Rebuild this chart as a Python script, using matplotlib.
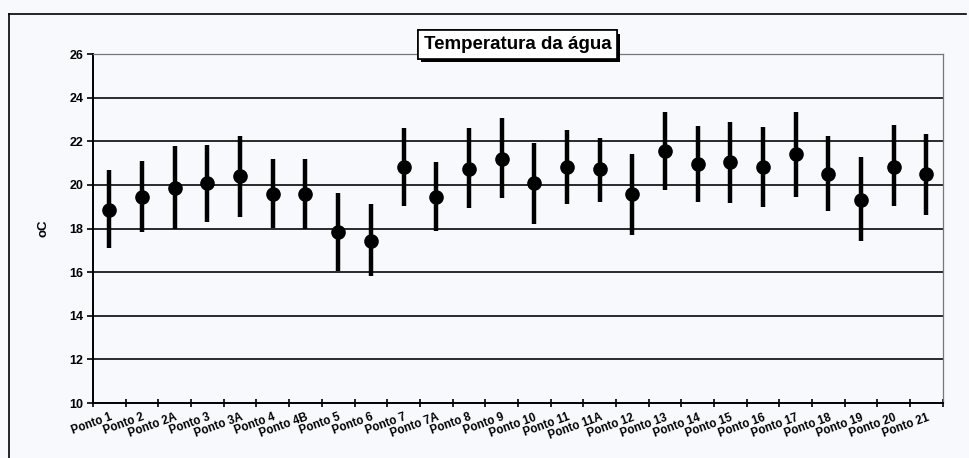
import matplotlib
matplotlib.use('Agg')
import matplotlib.pyplot as plt
import matplotlib.patheffects as pe
from matplotlib.lines import Line2D
import numpy as np

pontos = ['Ponto 1', 'Ponto 2', 'Ponto 2A', 'Ponto 3', 'Ponto 3A', 'Ponto 4', 'Ponto 4B',
          'Ponto 5', 'Ponto 6', 'Ponto 7', 'Ponto 7A', 'Ponto 8', 'Ponto 9', 'Ponto 10',
          'Ponto 11', 'Ponto 11A', 'Ponto 12', 'Ponto 13', 'Ponto 14', 'Ponto 15',
          'Ponto 16', 'Ponto 17', 'Ponto 18', 'Ponto 19', 'Ponto 20', 'Ponto 21']
media = [18.86, 19.44, 19.85, 20.08, 20.41, 19.57, 19.57, 17.83, 17.42, 20.83, 19.44, 20.73, 21.2,
         20.08, 20.8, 20.71, 19.57, 21.55, 20.98, 21.03, 20.83, 21.4, 20.5, 19.32, 20.83, 20.5]
maximo = [20.68, 21.11, 21.78, 21.82, 22.23, 21.2, 21.2, 19.65, 19.12, 22.61, 21.05, 22.61, 23.07,
          21.93, 22.5, 22.17, 21.41, 23.34, 22.7, 22.88, 22.66, 23.34, 22.23, 21.29, 22.73, 22.32]
minimo = [17.12, 17.83, 17.98, 18.3, 18.53, 18.03, 17.98, 16.05, 15.82, 19.04, 17.9, 18.92, 19.39,
          18.22, 19.12, 19.21, 17.72, 19.77, 19.21, 19.17, 19.01, 19.44, 18.82, 17.42, 19.04, 18.63]

plt.rcParams['font.family'] = ['Liberation Sans', 'DejaVu Sans']
plt.rcParams['font.weight'] = 'bold'

fundo = '#f7f9fc'
fig = plt.figure(figsize=(9.69, 4.58), dpi=100, facecolor=fundo)
ax = fig.add_axes([0.096, 0.120, 0.877, 0.762], facecolor=fundo)

x = np.arange(len(pontos))
media = np.array(media)
erro = [media - np.array(minimo), np.array(maximo) - media]

for v in [12, 14, 16, 18, 20, 22, 24]:
    ax.axhline(v, color='#1a1a1a', lw=1.3, zorder=1)

ax.errorbar(x, media, yerr=erro, fmt='o', color='black', ms=9.5, elinewidth=3.2,
            capsize=0, zorder=3)

ax.set_xlim(-0.5, len(pontos) - 0.5)
ax.set_ylim(10, 26)
ax.set_yticks(range(10, 27, 2))
ax.set_xticks(x)
ax.set_xticklabels(pontos, rotation=20, ha='right', rotation_mode='anchor', fontsize=8.3)
ax.set_xticks(np.arange(-0.5, len(pontos)), minor=True)
ax.tick_params(axis='x', which='major', length=0, pad=6)
ax.tick_params(axis='x', which='minor', length=6, direction='inout', width=1.2)
ax.tick_params(axis='y', labelsize=9, length=4, width=1.2, direction='out', pad=3)

for s in ['left', 'bottom']:
    ax.spines[s].set_color('black')
    ax.spines[s].set_linewidth(1.4)
for s in ['top', 'right']:
    ax.spines[s].set_color('#777777')
    ax.spines[s].set_linewidth(0.9)

ax.set_ylabel('oC', fontsize=9.5, fontweight='bold', labelpad=14)

t = fig.text(0.534, 0.903, 'Temperatura da água', ha='center', va='center',
             fontsize=13.5, fontweight='bold',
             bbox=dict(boxstyle='square,pad=0.3', fc='white', ec='black', lw=1.2))
t.get_bbox_patch().set_path_effects([pe.withSimplePatchShadow(offset=(2.5, -2.5),
                                                               shadow_rgbFace='black', alpha=1),
                                     pe.Normal()])

# moldura externa
fig.add_artist(Line2D([9 / 969, 9 / 969], [0, 1 - 14 / 458], color='black', lw=1.2,
                      transform=fig.transFigure))
fig.add_artist(Line2D([9 / 969, 966 / 969], [1 - 14 / 458, 1 - 14 / 458], color='black', lw=1.2,
                      transform=fig.transFigure))

fig.savefig('out.png', dpi=100, facecolor=fundo)
